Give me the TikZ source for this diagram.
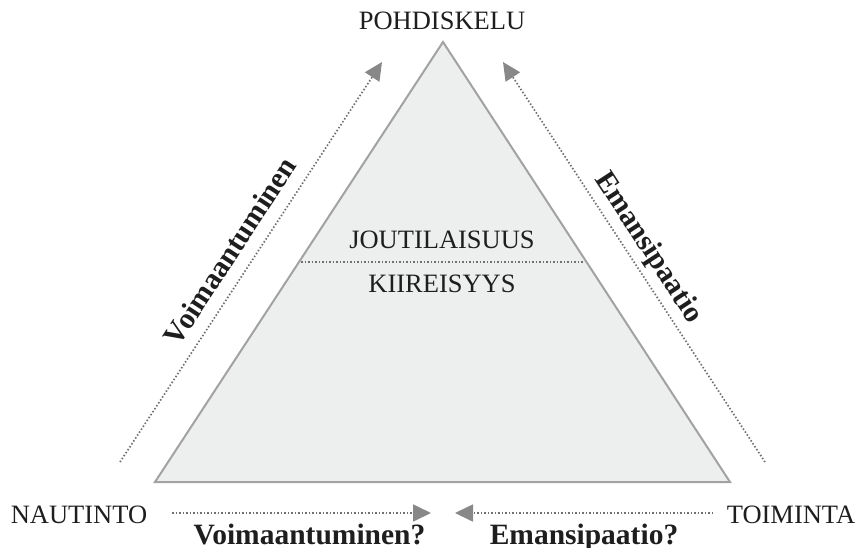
\documentclass[tikz,border=0pt]{standalone}
\usepackage{fontspec}
\setmainfont{Liberation Serif}
\usetikzlibrary{arrows.meta,calc}
\definecolor{trifill}{HTML}{EDEFEE}
\definecolor{tridraw}{HTML}{A2A2A2}
\definecolor{dotgray}{HTML}{707070}
\definecolor{tipgray}{HTML}{888888}
\definecolor{txt}{HTML}{1E1E1E}
\tikzset{
  lbl/.style={font=\fontsize{26.5}{30}\selectfont, text=txt, inner sep=0pt},
  blbl/.style={font=\fontsize{29.5}{33}\selectfont\bfseries, text=txt, inner sep=0pt},
  dotline/.style={draw=dotgray, line width=1.7pt, dash pattern=on 1.5pt off 2pt},
  dotarrow/.style={dotline, -{Triangle[length=18pt,width=17pt,fill=tipgray,color=tipgray]}},
}
\begin{document}
\begin{tikzpicture}[x=1pt,y=-1pt]
\useasboundingbox (0,0) rectangle (857,547);
% triangle
\coordinate (A) at (443,42);
\coordinate (B) at (155,482);
\coordinate (C) at (730,482);
\draw[fill=trifill, draw=tridraw, line width=2pt, line join=miter] (A) -- (B) -- (C) -- cycle;
\coordinate (ML) at ($(A)!0.5!(B)$);
\coordinate (MR) at ($(A)!0.5!(C)$);
\draw[dotline, line width=1.4pt] ($(ML)+(2,0)$) -- ($(MR)+(-2,0)$);
\node[lbl] (jou) at (442,240) {JOUTILAISUUS};
\node[lbl] (kii) at (442,284) {KIIREISYYS};
% corner labels
\node[lbl] (poh) at (442,21) {POHDISKELU};
\node[lbl] (nau) at (79,514.5) {NAUTINTO};
\node[lbl] (toi) at (791,514.5) {TOIMINTA};
% diagonal arrows
\coordinate (l1) at (120,462);
\coordinate (l2) at (382,62);
\coordinate (r1) at (765,462);
\coordinate (r2) at (503,62);
\draw[dotarrow] (l1) -- (l2);
\draw[dotarrow] (r1) -- (r2);
\node[blbl, rotate=56.8] (voi) at (230,251) {Voimaantuminen};
\node[blbl, rotate=-56.8] (ema) at (648,248) {Emansipaatio};
% bottom arrows
\coordinate (b1) at (172,513);
\coordinate (b2) at (431,513);
\coordinate (b3) at (713,513);
\coordinate (b4) at (455,513);
\draw[dotarrow] (b1) -- (b2);
\draw[dotarrow] (b3) -- (b4);
\node[blbl, anchor=base] (voiq) at (309.5,544.5) {Voimaantuminen?};
\node[blbl, anchor=base] (emaq) at (584,544.5) {Emansipaatio?};
\end{tikzpicture}
\end{document}
